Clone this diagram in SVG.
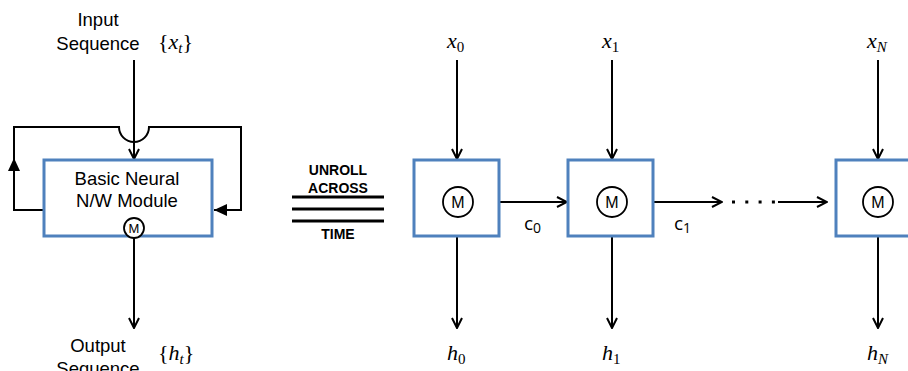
<svg xmlns="http://www.w3.org/2000/svg" width="908" height="371" viewBox="0 0 908 371">
<defs>
<style>
.box{fill:#fff;stroke:#4F81BD;stroke-width:3}
.ln{fill:none;stroke:#000;stroke-width:2}
.th{fill:none;stroke:#000;stroke-width:3}
.circ{fill:#fff;stroke:#000;stroke-width:1.8}
.lbl{font-family:"Liberation Sans",Arial,sans-serif;font-size:18.5px;fill:#000}
.m{font-family:"Liberation Sans",Arial,sans-serif;fill:#000;text-anchor:middle}
.math{font-family:"Liberation Serif","Times New Roman",serif;font-size:22px;fill:#000}
.bold{font-family:"Liberation Sans",Arial,sans-serif;font-size:14px;font-weight:bold;fill:#000;text-anchor:middle}
.c{font-family:"Open Sans","Noto Sans",sans-serif;font-size:19px;fill:#000}
</style>
<marker id="open" viewBox="0 0 12 12" refX="11" refY="6" markerWidth="12" markerHeight="12" markerUnits="userSpaceOnUse" orient="auto">
<path d="M1,1 L11,6 L1,11" fill="none" stroke="#000" stroke-width="2"/>
</marker>
<marker id="tri" viewBox="0 0 14 12" refX="13" refY="6" markerWidth="14" markerHeight="12" markerUnits="userSpaceOnUse" orient="auto">
<path d="M0,0 L13,6 L0,12 Z" fill="#000"/>
</marker>
</defs>

<g id="connectors">
<line class="ln" x1="134" y1="60" x2="134" y2="159" marker-end="url(#open)"/>
<path class="ln" d="M44,210 H14 V127 H119 A15,15 0 0 0 149,127 H241 V210 H214" marker-end="url(#tri)"/>
<line x1="14" y1="180" x2="14" y2="158" stroke="none" marker-end="url(#tri)"/>
<line class="ln" x1="134" y1="238" x2="134" y2="328" marker-end="url(#open)"/>
<line class="ln" x1="457" y1="60" x2="457" y2="159" marker-end="url(#open)"/>
<line class="ln" x1="612" y1="60" x2="612" y2="159" marker-end="url(#open)"/>
<line class="ln" x1="878" y1="60" x2="878" y2="159" marker-end="url(#open)"/>
<line class="ln" x1="457" y1="237" x2="457" y2="328" marker-end="url(#open)"/>
<line class="ln" x1="612" y1="237" x2="612" y2="328" marker-end="url(#open)"/>
<line class="ln" x1="878" y1="237" x2="878" y2="328" marker-end="url(#open)"/>
<line class="ln" x1="500" y1="202" x2="567" y2="202" marker-end="url(#open)"/>
<line class="ln" x1="654" y1="202" x2="722" y2="202" marker-end="url(#open)"/>
<line x1="732" y1="202" x2="776" y2="202" stroke="#000" stroke-width="3" stroke-dasharray="3,10.3"/>
<line class="ln" x1="778" y1="202" x2="827" y2="202" marker-end="url(#open)"/>
</g>

<g id="unroll">
<text class="bold" x="338" y="175">UNROLL</text>
<text class="bold" x="338" y="193">ACROSS</text>
<line class="th" x1="292" y1="197" x2="384" y2="197"/>
<line class="th" x1="292" y1="209" x2="384" y2="209"/>
<line class="th" x1="292" y1="221" x2="384" y2="221"/>
<text class="bold" x="338" y="239">TIME</text>
</g>

<g id="module">
<rect class="box" x="44" y="160" width="168" height="76"/>
<text class="lbl" x="127" y="185" text-anchor="middle">Basic Neural</text>
<text class="lbl" x="127" y="207" text-anchor="middle">N/W Module</text>
<circle class="circ" cx="134" cy="228" r="10"/>
<text class="m" x="134" y="233" font-size="13">M</text>
</g>

<g id="input-label">
<text class="lbl" x="98" y="26" text-anchor="middle">Input</text>
<text class="lbl" x="98" y="50" text-anchor="middle">Sequence</text>
<text class="math" x="158" y="49">{<tspan font-style="italic">x</tspan><tspan font-style="italic" font-size="15" dy="4">t</tspan><tspan dy="-4">}</tspan></text>
</g>

<g id="output-label">
<text class="lbl" x="98" y="352" text-anchor="middle">Output</text>
<text class="lbl" x="98" y="375" text-anchor="middle">Sequence</text>
<text class="math" x="158" y="360">{<tspan font-style="italic">h</tspan><tspan font-style="italic" font-size="15" dy="4">t</tspan><tspan dy="-4">}</tspan></text>
</g>

<g id="m0">
<rect class="box" x="414" y="160" width="85" height="76"/>
<circle class="circ" cx="458" cy="202" r="15"/>
<text class="m" x="458" y="208" font-size="16">M</text>
</g>
<g id="m1">
<rect class="box" x="568" y="160" width="85" height="76"/>
<circle class="circ" cx="612" cy="202" r="15"/>
<text class="m" x="612" y="208" font-size="16">M</text>
</g>
<g id="mN">
<rect class="box" x="836" y="160" width="85" height="76"/>
<circle class="circ" cx="878" cy="202" r="15"/>
<text class="m" x="878" y="208" font-size="16">M</text>
</g>

<g id="labels">
<text class="math" x="447" y="48"><tspan font-style="italic">x</tspan><tspan font-size="15" dy="4">0</tspan></text>
<text class="math" x="602" y="48"><tspan font-style="italic">x</tspan><tspan font-size="15" dy="4">1</tspan></text>
<text class="math" x="867" y="48"><tspan font-style="italic">x</tspan><tspan font-style="italic" font-size="15" dy="4">N</tspan></text>
<text class="math" x="447" y="360"><tspan font-style="italic">h</tspan><tspan font-size="15" dy="4">0</tspan></text>
<text class="math" x="602" y="360"><tspan font-style="italic">h</tspan><tspan font-size="15" dy="4">1</tspan></text>
<text class="math" x="867" y="360"><tspan font-style="italic">h</tspan><tspan font-style="italic" font-size="15" dy="4">N</tspan></text>
<text class="c" x="524" y="230">c<tspan font-size="14" dy="3">0</tspan></text>
<text class="c" x="674" y="230">c<tspan font-size="14" dy="3">1</tspan></text>
</g>
</svg>
